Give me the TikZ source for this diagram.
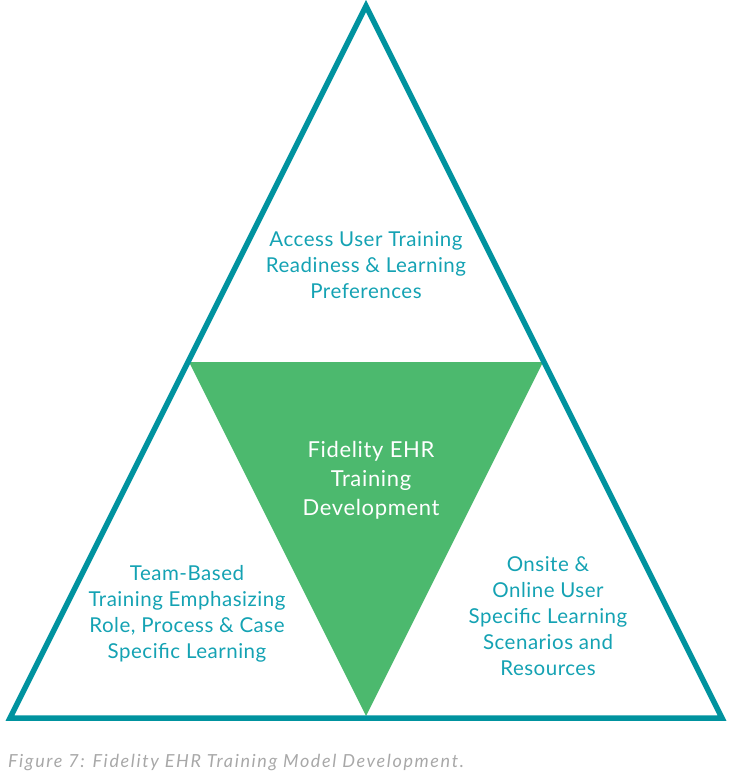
\documentclass[tikz,border=0pt]{standalone}
\usepackage{fontspec}
\setmainfont{Lato}
\newfontfamily\lblfont{Lato}[LetterSpace=2.5]
\newfontfamily\midfont{Lato}[LetterSpace=3]
\newfontfamily\capfont{Lato}[LetterSpace=9]
\definecolor{tealline}{HTML}{00939F}
\definecolor{tealtext}{HTML}{14A2B3}
\definecolor{midgreen}{HTML}{4CB96E}
\definecolor{capgray}{HTML}{A8A8A8}
\tikzset{
  outline/.style={draw=tealline, line width=5.5pt, line join=miter},
  centre/.style={fill=midgreen},
  lbl/.style={text=tealtext, align=center, font=\lblfont\fontsize{20.5}{26}\selectfont, inner sep=0pt},
  midlbl/.style={text=white, align=center, font=\midfont\fontsize{22}{29}\selectfont, inner sep=0pt},
  caption/.style={text=capgray, anchor=west, font=\capfont\fontsize{18}{20}\selectfont\itshape, inner sep=0pt}
}
\begin{document}
\begin{tikzpicture}[x=1pt,y=-1pt]
\useasboundingbox (0,0) rectangle (731,775);
\coordinate (A) at (366,6);
\coordinate (BL) at (10,718);
\coordinate (BR) at (722,718);
\coordinate (GL) at (189,362);
\coordinate (GR) at (543,362);
\coordinate (GB) at (366,716);
\fill[centre] (GL) -- (GR) -- (GB) -- cycle;
\draw[outline] (A) -- (BR) -- (BL) -- cycle;
\node[lbl] (top) at (366,265) {Access User Training\\Readiness \& Learning\\Preferences};
\node[midlbl] (mid) at (371,480) {Fidelity EHR\\Training\\Development};
\node[lbl] (left) at (187,614) {Team-Based\\Training Emphasizing\\Role, Process \& Case\\Specific Learning};
\node[lbl] (right) at (548,616) {Onsite \&\\Online User\\Specific Learning\\Scenarios and\\Resources};
\node[caption] (cap) at (8,762) {Figure 7: Fidelity EHR Training Model Development.};
\end{tikzpicture}
\end{document}
